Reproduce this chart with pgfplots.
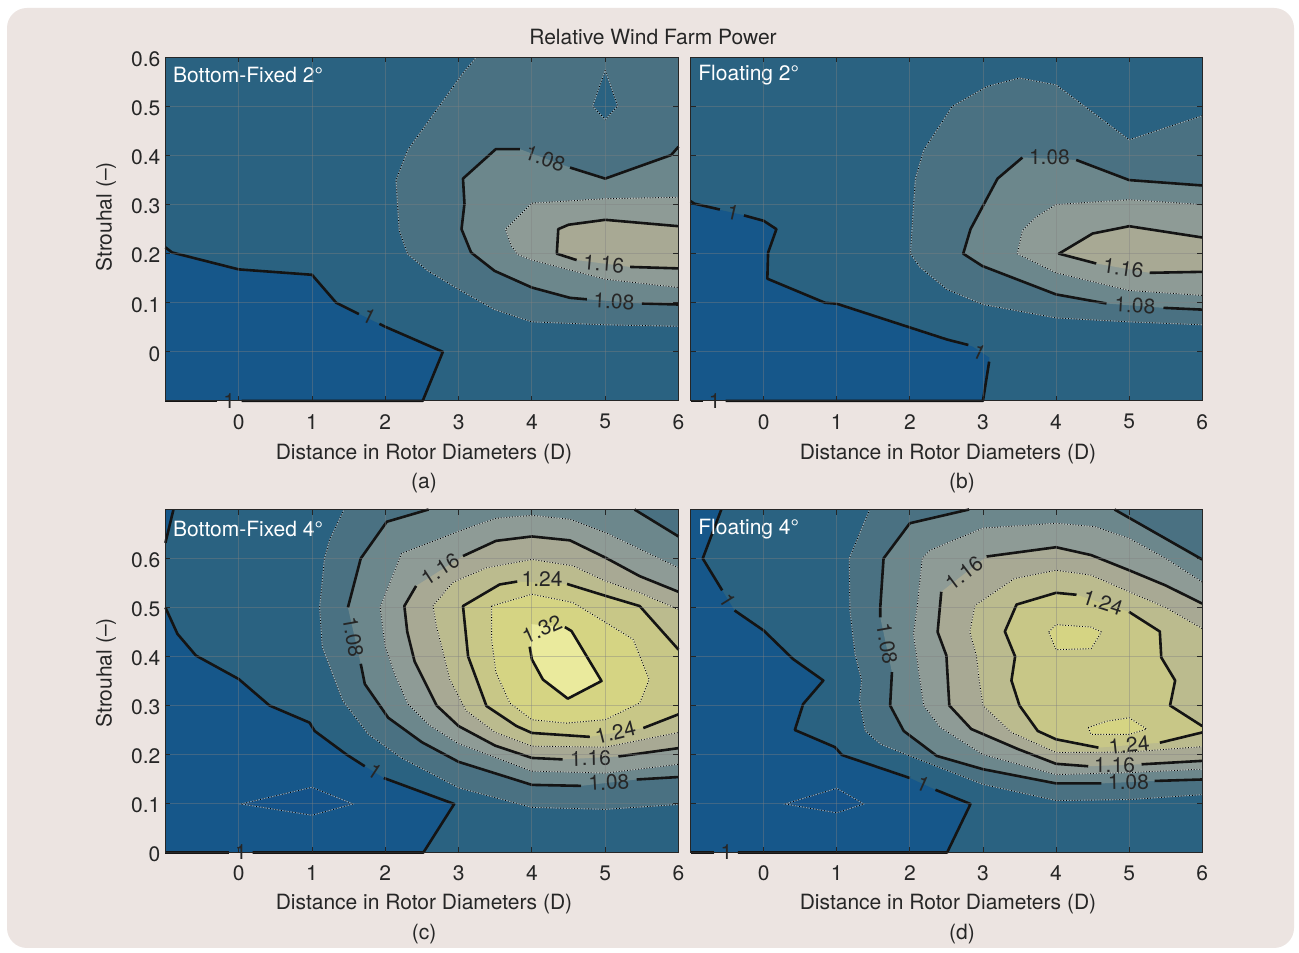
\documentclass[border=0pt]{standalone}
\usepackage{fontspec}
\setmainfont{TeX Gyre Heros}
\usepackage{pgfplots}
\pgfplotsset{compat=1.18}
\newcommand\fs{\fontsize{21}{25}\selectfont}
\definecolor{c0}{HTML}{16578A}
\definecolor{c1}{HTML}{2A6281}
\definecolor{c2}{HTML}{4A7182}
\definecolor{c3}{HTML}{6C878C}
\definecolor{c4}{HTML}{8E9B96}
\definecolor{c5}{HTML}{A8A994}
\definecolor{c6}{HTML}{BBBB8E}
\definecolor{c7}{HTML}{C8C787}
\definecolor{c8}{HTML}{D5D483}
\definecolor{c9}{HTML}{EAEA9D}
\definecolor{cm}{HTML}{14538A}
\definecolor{bgc}{HTML}{ECE4E1}
\definecolor{txt}{HTML}{262626}
\tikzset{
  solidc/.style={draw=black!92, line width=2.6pt, line join=round},
  dotbg/.style={draw=white, opacity=0.45, line width=0.9pt},
  dotfg/.style={draw=black, line width=0.9pt, dash pattern=on 0.9pt off 1.9pt},
  clab/.style={font=\fs, text=txt, inner sep=0pt},
}
\newcommand{\SL}[1]{\addplot[solidc] coordinates {#1};}
\newcommand{\DL}[1]{\addplot[dotbg] coordinates {#1};\addplot[dotfg] coordinates {#1};}
\newcommand{\DLC}[1]{\addplot[dotbg] coordinates {#1} -- cycle;\addplot[dotfg] coordinates {#1} -- cycle;}
\newcommand{\FR}[2]{\addplot[fill=#1,draw=none] coordinates {#2} -- cycle;}
\newcommand{\CL}[4]{\node[clab,rotate=#3] at (axis cs:#1,#2) {#4};}
\pgfplotsset{
 panel/.style={
  anchor=south west, scale only axis,
  xmin=-1, xmax=6,
  xtick={0,1,2,3,4,5,6},
  ytick={0,0.1,0.2,0.3,0.4,0.5,0.6},
  tick align=inside, tick pos=both,
  major tick length=5pt,
  every tick/.style={black!85, line width=0.8pt},
  axis line style={black!85, line width=0.9pt},
  grid=major,
  major grid style={draw=gray, line width=0.8pt, opacity=0.4},
  axis background/.style={fill=c1},
  axis on top, clip=false,
  tick label style={font=\fs, text=txt},
  xticklabel style={yshift=-10pt},
  yticklabel style={xshift=-1.5pt, yshift=-2pt},
  /pgf/number format/assume math mode=true,
 }
}
\begin{document}
\begin{tikzpicture}
\fill[white] (0pt,0pt) rectangle (1299pt,953pt);
\fill[bgc, rounded corners=20pt] (7pt,5pt) rectangle (1294pt,945pt);
\node[font=\fs,text=txt] at (653pt,916pt) {Relative Wind Farm Power};
\node[font=\fs,text=txt] at (424pt,499pt) {Distance in Rotor Diameters (D)};
\node[font=\fs,text=txt] at (424pt,469.5pt) {(a)};
\node[font=\fs,text=txt] at (948pt,499pt) {Distance in Rotor Diameters (D)};
\node[font=\fs,text=txt] at (962pt,469.5pt) {(b)};
\node[font=\fs,text=txt] at (424pt,48.5pt) {Distance in Rotor Diameters (D)};
\node[font=\fs,text=txt] at (424pt,18.5pt) {(c)};
\node[font=\fs,text=txt] at (948pt,48.5pt) {Distance in Rotor Diameters (D)};
\node[font=\fs,text=txt] at (962pt,18.5pt) {(d)};
\node[font=\fs,text=txt,rotate=90] at (106pt,736pt) {Strouhal (–)};
\node[font=\fs,text=txt,rotate=90] at (106pt,280pt) {Strouhal (–)};

% ---------------- (a) Bottom-Fixed 2 deg
\begin{axis}[panel, at={(165.4pt,552.1pt)}, width=513.1pt, height=343.5pt, ymin=-0.1, ymax=0.6]
\FR{c0}{(-1,0.213) (-0.91,0.2025) (0,0.168) (1,0.157) (1.33,0.1) (2,0.051) (2.785,0) (2.51,-0.1) (-1,-0.1)}
\FR{c2}{(3.24,0.6) (3.06,0.568) (2.306,0.411) (2.146,0.35) (2.19,0.247) (2.306,0.199) (2.58,0.165) (3.037,0.124) (3.49,0.086) (4,0.061) (5,0.055) (6,0.052) (6,0.6)}
\FR{c1}{(5,0.574) (5.17,0.501) (5,0.473) (4.83,0.501)}
\FR{c3}{(6,0.418) (5.9,0.401) (5,0.353) (4.52,0.3755) (3.836,0.413) (3.507,0.413) (3.06,0.353) (3.08,0.302) (3.04,0.25) (3.17,0.2025) (3.49,0.165) (4,0.131) (4.52,0.11) (4.75,0.107) (5.5,0.0985) (6,0.0964)}
\FR{c4}{(6,0.315) (5,0.312) (4,0.303) (3.64,0.25) (3.72,0.216) (3.81,0.198) (4,0.187) (5,0.148) (6,0.131)}
\FR{c5}{(6,0.256) (5,0.269) (4.5,0.259) (4.36,0.25) (4.34,0.2) (4.61,0.187) (5.34,0.173) (6,0.17)}
\DL{(3.24,0.6) (3.06,0.568) (2.306,0.411) (2.146,0.35) (2.19,0.247) (2.306,0.199) (2.58,0.165) (3.037,0.124) (3.49,0.086) (4,0.061) (5,0.055) (6,0.052)}
\DLC{(5,0.574) (5.17,0.501) (5,0.473) (4.83,0.501)}
\DL{(6,0.315) (5,0.312) (4,0.303) (3.64,0.25) (3.72,0.216) (3.81,0.198) (4,0.187) (5,0.148) (6,0.131)}
\SL{(-1,0.213) (-0.91,0.2025) (0,0.168) (1,0.157) (1.33,0.1) (1.64,0.077)}
\SL{(1.92,0.057) (2,0.051) (2.785,0) (2.51,-0.1) (0.04,-0.1)}
\SL{(-0.29,-0.1) (-1,-0.1)}
\SL{(6,0.418) (5.9,0.401) (5,0.353) (4.52,0.3755)}
\SL{(3.836,0.413) (3.507,0.413) (3.06,0.353) (3.08,0.302) (3.04,0.25) (3.17,0.2025) (3.49,0.165) (4,0.131) (4.52,0.11) (4.75,0.107)}
\SL{(5.5,0.0985) (6,0.0964)}
\SL{(6,0.256) (5,0.269) (4.5,0.259) (4.36,0.25) (4.34,0.2) (4.61,0.187)}
\SL{(5.34,0.173) (6,0.17)}
\CL{1.78}{0.0725}{-26}{1}
\CL{-0.13}{-0.1}{0}{1}
\CL{4.18}{0.394}{-20}{1.08}
\CL{4.98}{0.179}{-5}{1.16}
\CL{5.12}{0.102}{-3}{1.08}
\node[anchor=west, font=\fs, text=white, inner sep=0pt, xshift=7.6pt, yshift=-17.6pt] at (rel axis cs:0,1) {Bottom-Fixed 2°};
\end{axis}

% ---------------- (b) Floating 2 deg
\begin{axis}[panel, at={(690.6pt,552.1pt)}, width=511.6pt, height=343.5pt, ymin=-0.1, ymax=0.6, yticklabels={}]
\FR{c0}{(-1,0.307) (-0.95,0.302) (-0.56,0.288) (-0.26,0.278) (0,0.267) (0.174,0.25) (0.06,0.202) (0.05,0.149) (0.839,0.1) (1,0.098) (2.51,0.025) (2.855,0.011) (3.09,-0.012) (3,-0.1) (-1,-0.1)}
\FR{c2}{(6,0.481) (5,0.432) (4,0.544) (3.5,0.558) (3.06,0.541) (2.58,0.5) (2.19,0.411) (2.076,0.353) (2.007,0.2) (2.14,0.172) (2.51,0.127) (3,0.0964) (4,0.069) (5,0.061) (6,0.055)}
\FR{c3}{(6,0.339) (5,0.35) (4.276,0.391) (3.54,0.396) (3.2,0.353) (2.83,0.25) (2.73,0.2) (2.99,0.175) (4,0.117) (4.69,0.0985) (5.47,0.0896) (6,0.086)}
\FR{c4}{(6,0.3) (5,0.31) (4,0.3) (3.72,0.274) (3.54,0.247) (3.47,0.2) (4,0.161) (5,0.125) (6,0.115)}
\FR{c5}{(6,0.233) (5,0.256) (4.5,0.241) (4.04,0.2) (4.55,0.18) (5.28,0.161) (6,0.163)}
\DL{(6,0.481) (5,0.432) (4,0.544) (3.5,0.558) (3.06,0.541) (2.58,0.5) (2.19,0.411) (2.076,0.353) (2.007,0.2) (2.14,0.172) (2.51,0.127) (3,0.0964) (4,0.069) (5,0.061) (6,0.055)}
\DL{(6,0.3) (5,0.31) (4,0.3) (3.72,0.274) (3.54,0.247) (3.47,0.2) (4,0.161) (5,0.125) (6,0.115)}
\SL{(-1,0.307) (-0.95,0.302) (-0.6,0.29)}
\SL{(-0.27,0.278) (0,0.267) (0.174,0.25) (0.06,0.202) (0.05,0.149) (0.839,0.1) (1,0.098) (2.51,0.025) (2.8,0.014)}
\SL{(3.085,-0.02) (3,-0.1) (-0.52,-0.1)}
\SL{(-0.83,-0.1) (-1,-0.1)}
\SL{(6,0.339) (5,0.35) (4.276,0.391)}
\SL{(3.54,0.396) (3.2,0.353) (2.83,0.25) (2.73,0.2) (2.99,0.175) (4,0.117) (4.69,0.0985)}
\SL{(5.47,0.0896) (6,0.086)}
\SL{(6,0.233) (5,0.256) (4.5,0.241) (4.04,0.2) (4.55,0.18)}
\SL{(5.28,0.161) (6,0.163)}
\CL{-0.42}{0.284}{-13}{1}
\CL{2.95}{0.0}{-25}{1}
\CL{-0.67}{-0.1}{0}{1}
\CL{3.91}{0.397}{0}{1.08}
\CL{4.92}{0.17}{-8}{1.16}
\CL{5.08}{0.094}{-3}{1.08}
\node[anchor=west, font=\fs, text=white, inner sep=0pt, xshift=7.6pt, yshift=-17.6pt] at (rel axis cs:0,1) {Floating 2°};
\end{axis}

% ---------------- (c) Bottom-Fixed 4 deg
\begin{axis}[panel, at={(165.4pt,100.5pt)}, width=513.1pt, height=343pt, ymin=0, ymax=0.7]
\FR{c0}{(-1,0.5) (-0.835,0.446) (-0.584,0.402) (0,0.354) (0.42,0.3) (0.967,0.265) (1.036,0.248) (1.47,0.2) (1.72,0.176) (1.98,0.152) (2.94,0.099) (2.52,0) (-1,0)}
\FR{c0}{(-1,0.7) (-0.89,0.7) (-1,0.632)}
\FR{cm}{(0.03,0.099) (1,0.133) (1.56,0.099) (1,0.076)}
\FR{c2}{(1.437,0.7) (1.24,0.638) (1.17,0.6) (1.104,0.5) (1.14,0.42) (1.42,0.31) (1.77,0.241) (2.22,0.193) (3,0.132) (4,0.092) (5,0.088) (6,0.098) (6,0.7)}
\FR{c3}{(2.59,0.7) (2.02,0.675) (1.665,0.6) (1.49,0.5) (1.665,0.385) (1.72,0.344) (2.04,0.275) (2.5,0.225) (3,0.185) (4,0.138) (4.67,0.136) (5.43,0.149) (6,0.154) (6,0.645) (5.4,0.7)}
\FR{c4}{(6,0.581) (5,0.653) (4.52,0.68) (4,0.688) (3.51,0.682) (3.01,0.656) (2.22,0.61) (1.93,0.5) (2,0.42) (2.13,0.364) (2.31,0.303) (2.6,0.26) (3,0.222) (4,0.166) (5,0.162) (6,0.18)}
\FR{c5}{(6,0.532) (5.47,0.564) (5,0.602) (4.52,0.637) (4,0.645) (3.51,0.636) (3.06,0.605) (2.42,0.544) (2.26,0.503) (2.3,0.45) (2.4,0.39) (2.7,0.3) (3,0.258) (3.5,0.218) (4,0.193) (4.42,0.19) (5.18,0.196) (6,0.213)}
\FR{c6}{(6,0.496) (5.47,0.53) (5,0.554) (4.56,0.585) (4,0.598) (3.38,0.581) (2.92,0.551) (2.65,0.503) (2.7,0.46) (2.77,0.42) (2.88,0.353) (3.1,0.29) (3.5,0.245) (4,0.217) (5,0.215) (6,0.245)}
\FR{c7}{(6,0.414) (5.47,0.503) (5,0.524) (4.48,0.548) (3.8,0.553) (3.56,0.547) (3.06,0.503) (3.13,0.4) (3.38,0.299) (3.79,0.258) (4,0.244) (4.79,0.236) (5.52,0.254) (6,0.282)}
\FR{c8}{(3.45,0.503) (4,0.527) (4.56,0.51) (5,0.47) (5.38,0.435) (5.6,0.353) (5.47,0.305) (5,0.271) (4.47,0.264) (4,0.271) (3.7,0.305) (3.51,0.367) (3.45,0.435)}
\FR{c9}{(3.97,0.42) (3.99,0.466) (4.45,0.46) (4.54,0.452) (4.95,0.35) (4.49,0.314) (4.15,0.353) (4,0.394)}
\DLC{(0.03,0.099) (1,0.133) (1.56,0.099) (1,0.076)}
\DL{(1.437,0.7) (1.24,0.638) (1.17,0.6) (1.104,0.5) (1.14,0.42) (1.42,0.31) (1.77,0.241) (2.22,0.193) (3,0.132) (4,0.092) (5,0.088) (6,0.098)}
\DL{(6,0.581) (5,0.653) (4.52,0.68) (4,0.688) (3.51,0.682) (3.01,0.656) (2.22,0.61) (1.93,0.5) (2,0.42) (2.13,0.364) (2.31,0.303) (2.6,0.26) (3,0.222) (4,0.166) (5,0.162) (6,0.18)}
\DL{(6,0.496) (5.47,0.53) (5,0.554) (4.56,0.585) (4,0.598) (3.38,0.581) (2.92,0.551) (2.65,0.503) (2.7,0.46) (2.77,0.42) (2.88,0.353) (3.1,0.29) (3.5,0.245) (4,0.217) (5,0.215) (6,0.245)}
\DLC{(3.45,0.503) (4,0.527) (4.56,0.51) (5,0.47) (5.38,0.435) (5.6,0.353) (5.47,0.305) (5,0.271) (4.47,0.264) (4,0.271) (3.7,0.305) (3.51,0.367) (3.45,0.435)}
\SL{(-1,0.5) (-0.835,0.446) (-0.584,0.402) (0,0.354) (0.42,0.3) (0.967,0.265) (1.036,0.248) (1.47,0.2) (1.72,0.176)}
\SL{(1.98,0.152) (2.94,0.099) (2.52,0) (0.19,0)}
\SL{(-0.13,0) (-1,0)}
\SL{(-0.89,0.7) (-1,0.632)}
\SL{(2.59,0.7) (2.02,0.675) (1.665,0.6) (1.49,0.5)}
\SL{(1.665,0.385) (1.72,0.344) (2.04,0.275) (2.5,0.225) (3,0.185) (4,0.138) (4.67,0.136)}
\SL{(5.43,0.149) (6,0.154)}
\SL{(5.4,0.7) (6,0.645)}
\SL{(6,0.532) (5.47,0.564) (5,0.602) (4.52,0.637) (4,0.645) (3.51,0.636) (3.06,0.605)}
\SL{(2.42,0.544) (2.26,0.503) (2.3,0.45) (2.4,0.39) (2.7,0.3) (3,0.258) (3.5,0.218) (4,0.193) (4.42,0.19)}
\SL{(5.18,0.196) (6,0.213)}
\SL{(6,0.414) (5.47,0.503) (5,0.524) (4.48,0.548)}
\SL{(3.8,0.553) (3.56,0.547) (3.06,0.503) (3.13,0.4) (3.38,0.299) (3.79,0.258) (4,0.244) (4.79,0.236)}
\SL{(5.52,0.254) (6,0.282)}
\SL{(4.45,0.46) (4.54,0.452) (4.95,0.35) (4.49,0.314) (4.15,0.353) (4,0.394) (3.97,0.42)}
\CL{1.857}{0.166}{-33}{1}
\CL{0.03}{0}{0}{1}
\CL{1.56}{0.44}{-80}{1.08}
\CL{2.75}{0.578}{33}{1.16}
\CL{4.14}{0.558}{0}{1.24}
\CL{4.14}{0.456}{24}{1.32}
\CL{5.14}{0.245}{14}{1.24}
\CL{4.8}{0.192}{1}{1.16}
\CL{5.05}{0.143}{3}{1.08}
\node[anchor=west, font=\fs, text=white, inner sep=0pt, xshift=7.6pt, yshift=-19.5pt] at (rel axis cs:0,1) {Bottom-Fixed 4°};
\end{axis}

% ---------------- (d) Floating 4 deg
\begin{axis}[panel, at={(690.6pt,100.5pt)}, width=511.6pt, height=343pt, ymin=0, ymax=0.7, yticklabels={}]
\FR{c0}{(-1,0.7) (-0.58,0.7) (-0.834,0.6) (-0.568,0.535) (-0.399,0.494) (0,0.453) (0.4,0.395) (0.816,0.351) (0.54,0.303) (0.426,0.25) (0.976,0.215) (1.07,0.199) (2,0.152) (2.35,0.128) (2.83,0.099) (2.51,0) (-1,0)}
\FR{cm}{(0.29,0.099) (1,0.131) (1.37,0.099) (1,0.081)}
\FR{c2}{(1.45,0.7) (1.17,0.6) (1.18,0.494) (1.25,0.405) (1.34,0.351) (1.31,0.31) (1.39,0.248) (1.6,0.221) (2,0.197) (3,0.139) (4,0.106) (5,0.108) (6,0.118) (6,0.7)}
\FR{c3}{(2.81,0.7) (2,0.672) (1.64,0.6) (1.595,0.5) (1.595,0.48) (1.755,0.368) (1.73,0.3) (1.916,0.248) (2.37,0.197) (3,0.17) (4,0.141) (4.62,0.141) (5.35,0.146) (6,0.149) (6,0.598) (4.8,0.7)}
\FR{c4}{(6,0.552) (5.5,0.6) (5,0.641) (4.53,0.665) (4,0.672) (3,0.662) (2.28,0.617) (2.17,0.6) (2.1,0.5) (2.05,0.446) (2.14,0.351) (2.19,0.3) (2.42,0.255) (3,0.2) (4,0.159) (5,0.163) (6,0.17)}
\FR{c5}{(6,0.508) (5.5,0.545) (5,0.576) (4.48,0.607) (4,0.623) (3.05,0.604) (2.43,0.532) (2.38,0.45) (2.5,0.402) (2.54,0.3) (2.84,0.252) (3.48,0.211) (4,0.181) (4.44,0.176) (5.17,0.18) (6,0.187)}
\FR{c6}{(6,0.457) (5.5,0.5) (5,0.532) (4.48,0.566) (4,0.576) (3.43,0.559) (2.89,0.504) (2.82,0.45) (2.91,0.402) (2.95,0.35) (3,0.3) (3.39,0.245) (4,0.204) (5,0.205) (6,0.216)}
\FR{c7}{(6,0.258) (5.56,0.3) (5.63,0.351) (5.44,0.398) (5.42,0.451) (5,0.491) (4.28,0.526) (4,0.53) (3.46,0.506) (3.3,0.451) (3.44,0.4) (3.39,0.351) (3.5,0.3) (3.75,0.248) (4,0.231) (4.58,0.214) (5.42,0.224) (6,0.245)}
\FR{c8}{(3.9,0.45) (4,0.465) (4.48,0.46) (4.62,0.45) (4.48,0.416) (4,0.414)}
\FR{c8}{(4.44,0.255) (4.7,0.268) (5,0.275) (5.24,0.252) (5,0.241) (4.48,0.241)}
\DLC{(0.29,0.099) (1,0.131) (1.37,0.099) (1,0.081)}
\DL{(1.45,0.7) (1.17,0.6) (1.18,0.494) (1.25,0.405) (1.34,0.351) (1.31,0.31) (1.39,0.248) (1.6,0.221) (2,0.197) (3,0.139) (4,0.106) (5,0.108) (6,0.118)}
\DL{(6,0.552) (5.5,0.6) (5,0.641) (4.53,0.665) (4,0.672) (3,0.662) (2.28,0.617) (2.17,0.6) (2.1,0.5) (2.05,0.446) (2.14,0.351) (2.19,0.3) (2.42,0.255) (3,0.2) (4,0.159) (5,0.163) (6,0.17)}
\DL{(6,0.457) (5.5,0.5) (5,0.532) (4.48,0.566) (4,0.576) (3.43,0.559) (2.89,0.504) (2.82,0.45) (2.91,0.402) (2.95,0.35) (3,0.3) (3.39,0.245) (4,0.204) (5,0.205) (6,0.216)}
\DLC{(3.9,0.45) (4,0.465) (4.48,0.46) (4.62,0.45) (4.48,0.416) (4,0.414)}
\DLC{(4.44,0.255) (4.7,0.268) (5,0.275) (5.24,0.252) (5,0.241) (4.48,0.241)}
\SL{(-0.58,0.7) (-0.834,0.6) (-0.568,0.535)}
\SL{(-0.399,0.494) (0,0.453) (0.4,0.395) (0.816,0.351) (0.54,0.303) (0.426,0.25) (0.976,0.215) (1.07,0.199) (2,0.152)}
\SL{(2.35,0.128) (2.83,0.099) (2.51,0) (-0.353,0)}
\SL{(-0.674,0) (-1,0)}
\SL{(2.81,0.7) (2,0.672) (1.64,0.6) (1.595,0.5) (1.595,0.48)}
\SL{(1.755,0.368) (1.73,0.3) (1.916,0.248) (2.37,0.197) (3,0.17) (4,0.141) (4.62,0.141)}
\SL{(5.35,0.146) (6,0.149)}
\SL{(4.8,0.7) (6,0.598)}
\SL{(6,0.508) (5.5,0.545) (5,0.576) (4.48,0.607) (4,0.623) (3.05,0.604)}
\SL{(2.43,0.532) (2.38,0.45) (2.5,0.402) (2.54,0.3) (2.84,0.252) (3.48,0.211) (4,0.181) (4.44,0.176)}
\SL{(5.17,0.18) (6,0.187)}
\SL{(6,0.258) (5.56,0.3) (5.63,0.351) (5.44,0.398) (5.42,0.451) (5,0.491)}
\SL{(4.28,0.526) (4,0.53) (3.46,0.506) (3.3,0.451) (3.44,0.4) (3.39,0.351) (3.5,0.3) (3.75,0.248) (4,0.231) (4.58,0.214)}
\SL{(5.42,0.224) (6,0.245)}
\CL{-0.49}{0.515}{-58}{1}
\CL{2.18}{0.14}{-24}{1}
\CL{-0.51}{0}{0}{1}
\CL{1.686}{0.426}{-80}{1.08}
\CL{2.74}{0.57}{37}{1.16}
\CL{4.64}{0.51}{-18}{1.24}
\CL{5.0}{0.219}{6}{1.24}
\CL{4.8}{0.178}{0}{1.16}
\CL{4.99}{0.144}{1}{1.08}
\node[anchor=west, font=\fs, text=white, inner sep=0pt, xshift=7.6pt, yshift=-19.5pt] at (rel axis cs:0,1) {Floating 4°};
\end{axis}
\pgfresetboundingbox
\path[use as bounding box] (0pt,0pt) rectangle (1299pt,953pt);
\end{tikzpicture}
\end{document}
